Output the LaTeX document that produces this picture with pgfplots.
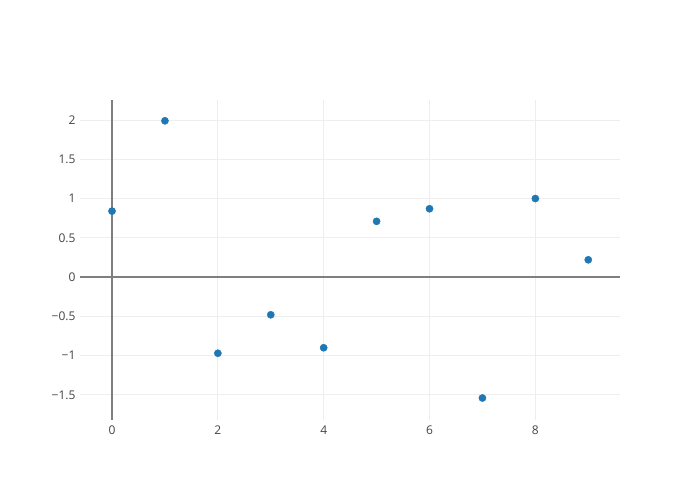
\documentclass[border=0pt]{standalone}
\usepackage{pgfplots}
\pgfplotsset{compat=1.18}
\usepackage{fontspec}
\setmainfont{Open Sans}
\definecolor{tickc}{HTML}{444444}
\definecolor{zlc}{HTML}{7F7F7F}
\definecolor{gridc}{HTML}{EEEEEE}
\definecolor{mk}{HTML}{1F77B4}
\begin{document}
\begin{tikzpicture}[x=1pt,y=1pt]
\path[fill=white] (0,0) rectangle (700,500);
\begin{axis}[
  at={(80pt,80pt)}, anchor=south west,
  scale only axis, width=540pt, height=320pt,
  xmin=-0.605, xmax=9.6, ymin=-1.82, ymax=2.255,
  axis line style={draw=none},
  major tick length=0pt,
  xtick={0,2,4,6,8},
  ytick={-1.5,-1,-0.5,0,0.5,1,1.5,2},
  yticklabels={−1.5,−1,−0.5,0,0.5,1,1.5,2},
  xticklabels={0,2,4,6,8},
  grid=major,
  grid style={gridc, line width=0.75pt},
  ticklabel style={font=\fontsize{12}{14}\selectfont, text=tickc},
  yticklabel style={xshift=-1pt},
  xticklabel style={yshift=-2pt},
  clip=false,
]
\draw[zlc, line width=1.2pt] (axis cs:0,-1.82) -- (axis cs:0,2.255);
\draw[zlc, line width=1.2pt] (axis cs:-0.605,0) -- (axis cs:9.6,0);
\addplot[only marks, mark=*, mark size=3.6pt, mark options={fill=mk, draw=mk}]
coordinates {(0,0.84) (1,1.99) (2,-0.97) (3,-0.48) (4,-0.90) (5,0.71) (6,0.87) (7,-1.54) (8,1.0) (9,0.22)};
\end{axis}
\end{tikzpicture}
\end{document}
